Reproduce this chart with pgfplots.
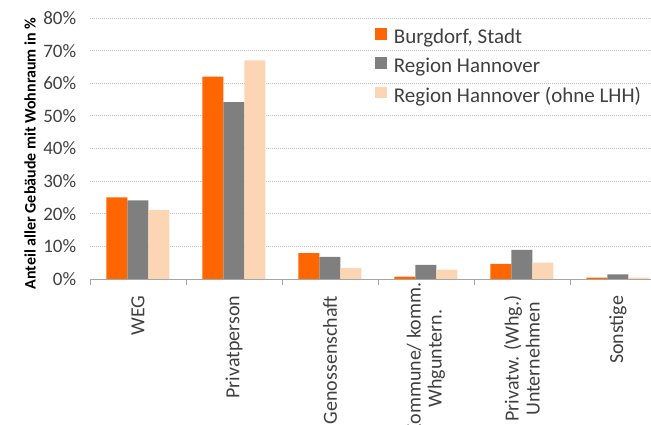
\documentclass[border=0pt]{standalone}
\usepackage{pgfplots}
\pgfplotsset{compat=1.18}
\usepackage{fontspec}
\setmainfont{Carlito}
\definecolor{cOrange}{HTML}{FF6600}
\definecolor{cGray}{HTML}{7F7F7F}
\definecolor{cLight}{HTML}{FCD5B4}
\definecolor{cText}{HTML}{404040}
\definecolor{cGrid}{HTML}{BFBFBF}
\definecolor{cAxis}{HTML}{A6A6A6}
\begin{document}
\begin{tikzpicture}
\useasboundingbox (-90pt,-146pt) rectangle (561pt,279pt);
\clip (-90pt,-146pt) rectangle (561pt,279pt);
\begin{axis}[
  at={(0pt,0pt)}, anchor=south west,
  scale only axis,
  width=576pt, height=261pt,
  xmin=-0.5, xmax=5.5, ymin=0, ymax=80,
  ybar=0pt, bar width=21pt,
  axis x line*=bottom, axis y line*=left,
  y axis line style={draw=none},
  x axis line style={cAxis, line width=0.8pt},
  xtick={0,1,2,3,4,5},
  xticklabels={WEG,Privatperson,Genossenschaft,{Kommune/ komm.\hspace*{-13pt}\\Whguntern.\hspace*{-13pt}},{Privatw. (Whg.)\\Unternehmen},Sonstige},
  major x tick style={draw=none},
  minor xtick={-0.5,0.5,1.5,2.5,3.5,4.5,5.5},
  minor x tick style={cAxis, line width=0.8pt},
  minor tick length=6pt,
  tick align=outside,
  xticklabel style={rotate=90, anchor=east, align=center, font=\fontsize{20}{21}\selectfont, text=cText},
  xticklabel shift=9pt,
  ytick={0,10,...,80},
  yticklabel={\pgfmathprintnumber{\tick}\%},
  /pgf/number format/assume math mode=true,
  ytick style={draw=none},
  yticklabel style={font=\fontsize{19}{20}\selectfont, text=cText, xshift=-6pt},
  ymajorgrids,
  grid style={cGrid, line width=0.8pt, dash pattern=on 1pt off 1pt},
  ylabel={Anteil aller Gebäude mit Wohnraum in \%},
  ylabel style={at={(rel axis cs:0,0.5)}, yshift=60pt, xshift=-5pt, anchor=center, font=\fontsize{16}{18}\selectfont\bfseries, text=black},
  legend style={at={(rel axis cs:0.49,0.975)}, anchor=north west, draw=none, fill=none,
    font=\fontsize{21}{22}\selectfont, text=cText, row sep=9pt,
    /tikz/every odd column/.append style={column sep=5pt}},
  legend cell align=left,
  legend image code/.code={\fill[#1] (0pt,-3pt) rectangle (11.5pt,8.5pt);},
]
\addplot[fill=cOrange, draw=none] coordinates {(0,25.0) (1,62.0) (2,7.9) (3,0.7) (4,4.6) (5,0.4)};
\addplot[fill=cGray, draw=none] coordinates {(0,24.1) (1,54.2) (2,6.8) (3,4.3) (4,8.9) (5,1.4)};
\addplot[fill=cLight, draw=none] coordinates {(0,21.2) (1,67.0) (2,3.4) (3,2.9) (4,5.0) (5,0.4)};
\legend{Burgdorf{,} Stadt, Region Hannover, Region Hannover (ohne LHH)}
\end{axis}
\end{tikzpicture}
\end{document}
